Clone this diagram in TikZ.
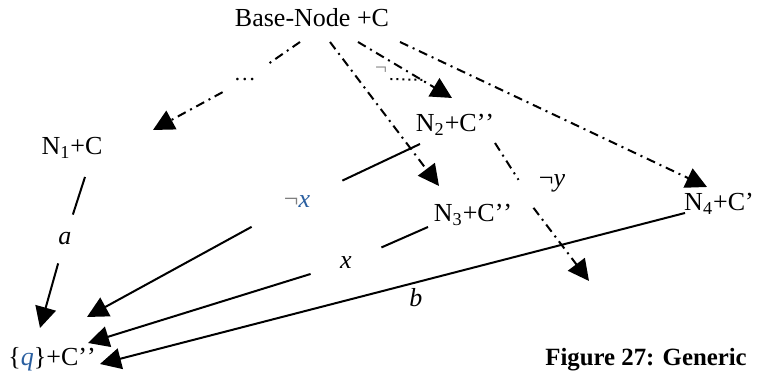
\documentclass[tikz,border=0pt]{standalone}
\usepackage{fontspec}
\setmainfont{Liberation Serif}
\usepackage{tikz}
\usetikzlibrary{arrows.meta, positioning}
\definecolor{neggray}{HTML}{7F7F7F}
\definecolor{qblue}{HTML}{2A5FA0}

\tikzset{
  txt/.style={inner sep=0pt, font=\fontsize{13}{15.6}\selectfont},
  gaplab/.style 2 args={txt, minimum width=#1, minimum height=#2},
  dashdot/.style={line width=1pt, dash pattern=on 4.5pt off 2.5pt on 1pt off 2.5pt},
  plain/.style={line width=1pt},
  arr/.style={-{Triangle[length=10.5pt,width=10.5pt]}}
}

\begin{document}
\begin{tikzpicture}[x=0.5pt,y=-0.5pt]
\useasboundingbox (0,0) rectangle (757,383);

% nodes
\node[txt, anchor=base] (root) at (312,27) {Base-Node +C};
\node[txt, anchor=base] (n1) at (72,155) {N\textsubscript{1}+C};
\node[txt, anchor=base] (n2) at (455,132) {N\textsubscript{2}+C’\kern0pt’};
\node[txt, anchor=base] (n3) at (473,222) {N\textsubscript{3}+C’\kern0pt’};
\node[txt, anchor=base] (n4) at (719,211) {N\textsubscript{4}+C’};
\node[txt, anchor=base west] (q) at (8,366) {\{\textcolor{qblue}{\textit{q}}\}+C’\kern0pt’};
\node[txt, anchor=base west, font=\fontsize{12.4}{15}\selectfont\bfseries] (cap) at (545,366) {Figure 27: Generic};

% edge labels
\node[gaplab={22pt}{15pt}, font=\fontsize{11}{13}\selectfont] (dots) at (245,80) {\textellipsis};
\node[txt, anchor=base, font=\fontsize{10.5}{12}\selectfont, text=neggray] (neg) at (381,75) {¬};
\node[gaplab={45pt}{25pt}] (negx) at (297,202) {\textcolor{neggray}{¬}\textcolor{qblue}{\textit{x}}};
\node[gaplab={35pt}{18pt}] (posx) at (346,263) {\textit{x}};
\node[gaplab={12pt}{24pt}] (alab) at (65,239) {\textit{a}};
\node[txt, anchor=base] (negy) at (552,187) {¬\textit{y}};
\coordinate (dotend) at (425,80);
\coordinate (yend) at (589,281);

% from the base node
\draw[dashdot] ([shift={(-12,15)}]root.base) -- (dots);
\draw[dashdot, arr] (dots) -- ([shift={(81,-25)}]n1.base);
\draw[dashdot, arr] ([shift={(18,15)}]root.base) -- ([shift={(-34,-36)}]n3.base);
\draw[dashdot, arr] ([shift={(46,15)}]root.base) -- ([shift={(-3,-34)}]n2.base);
\draw[dashdot, arr] ([shift={(88,15)}]root.base) -- ([shift={(-12,-24)}]n4.base);
\draw[dotted, line width=1pt] ([shift={(3,4)}]neg.base east) -- (dotend);

% into {q}
\draw[plain] ([shift={(13,22)}]n1.base) -- (alab);
\draw[plain, arr] (alab) -- ([shift={(32,-38)}]q.base west);
\draw[plain] ([shift={(-35,12)}]n2.base) -- (negx);
\draw[plain, arr] (negx) -- ([shift={(79,-49)}]q.base west);
\draw[plain] ([shift={(-45,5)}]n3.base) -- (posx);
\draw[plain, arr] (posx) -- ([shift={(80,-23)}]q.base west);
\draw[plain, arr] ([shift={(-34,2)}]n4.base) -- node[txt, pos=0.46, below=2.5pt] {\textit{b}} ([shift={(92,-2)}]q.base west);

% free end from N2
\draw[dashdot] ([shift={(40,11)}]n2.base) -- ([shift={(-20,-4)}]negy.west);
\draw[dashdot, arr] ([shift={(-5,24)}]negy.west) -- (yend);
\end{tikzpicture}
\end{document}
